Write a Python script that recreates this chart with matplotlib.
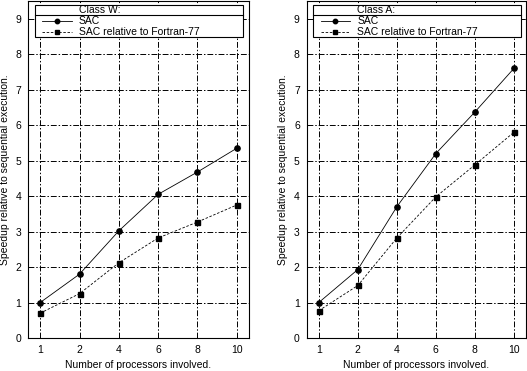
import matplotlib
matplotlib.use("Agg")
import matplotlib.pyplot as plt
from matplotlib.patches import Rectangle
from matplotlib.lines import Line2D

plt.rcParams['font.family'] = ['Liberation Sans', 'DejaVu Sans']

processors = ["1", "2", "4", "6", "8", "10"]
yticks = [0, 1, 2, 3, 4, 5, 6, 7, 8, 9]

classW_sac = [1.0, 1.8, 3.02, 4.05, 4.68, 5.35]
classW_rel = [0.70, 1.25, 2.12, 2.82, 3.27, 3.75]
classA_sac = [1.0, 1.93, 3.70, 5.20, 6.37, 7.60]
classA_rel = [0.77, 1.48, 2.82, 3.98, 4.88, 5.80]

panels = [
    ("Class W:", classW_sac, classW_rel, [28/527, 33/371, 221/527, 337/371]),
    ("Class A:", classA_sac, classA_rel, [306.7/527, 33/371, 219.3/527, 337/371]),
]
series_labels = ["SAC", "SAC relative to Fortran-77"]

fig = plt.figure(figsize=(5.27, 3.71), dpi=100)
fs = 7.5
for title, sac, rel, rect in panels:
    ax = fig.add_axes(rect)
    x = list(range(len(processors)))
    ax.set_xlim(-0.31, len(processors) - 1 + 0.31)
    ax.set_ylim(0, 9.5)
    ax.set_xticks(x)
    ax.set_xticklabels(processors, fontsize=fs)
    ax.set_yticks(yticks)
    ax.set_yticklabels([str(v) for v in yticks], fontsize=fs)
    ax.tick_params(length=0, pad=5)
    ax.grid(True, color='black', linestyle=(0, (6, 2, 1.5, 2)), linewidth=0.7)
    for s in ax.spines.values():
        s.set_linewidth(0.8)
    ax.plot(x, sac, color='black', linewidth=0.6, marker='o', markersize=3.8, zorder=3)
    ax.plot(x, rel, color='black', linewidth=0.6, linestyle=(0, (3, 2)),
            marker='s', markersize=3.6, zorder=3)
    ax.set_xlabel("Number of processors involved.", fontsize=fs, labelpad=4)
    ax.set_ylabel("Speedup relative to sequential execution.", fontsize=fs, labelpad=4)

    # legend box (gnuplot style)
    x0, x1 = 0.03, 0.975
    y0, y1 = 0.893, 0.988
    ysep = 0.958
    ax.add_patch(Rectangle((x0, y0), x1 - x0, y1 - y0, transform=ax.transAxes,
                           facecolor='white', edgecolor='black', linewidth=0.8, zorder=5))
    ax.add_line(Line2D([x0, x1], [ysep, ysep], transform=ax.transAxes,
                       color='black', linewidth=0.8, zorder=6))
    tx = 0.23
    ax.text(tx, 0.973, title, transform=ax.transAxes, fontsize=fs,
            va='center', ha='left', zorder=7)
    styles = [('-', 'o', 3.2), ((0, (3, 2)), 's', 3.2)]
    for (ls, mk, ms), lab, yy in zip(styles, series_labels, [0.941, 0.908]):
        ax.add_line(Line2D([0.063, 0.199], [yy, yy], transform=ax.transAxes,
                           color='black', linewidth=0.6, linestyle=ls, zorder=7))
        ax.add_line(Line2D([0.131], [yy], transform=ax.transAxes, color='black',
                           marker=mk, markersize=ms, linestyle='none', zorder=7))
        ax.text(tx, yy, lab, transform=ax.transAxes, fontsize=fs,
                va='center', ha='left', zorder=7)

fig.savefig("out.png", dpi=100)
